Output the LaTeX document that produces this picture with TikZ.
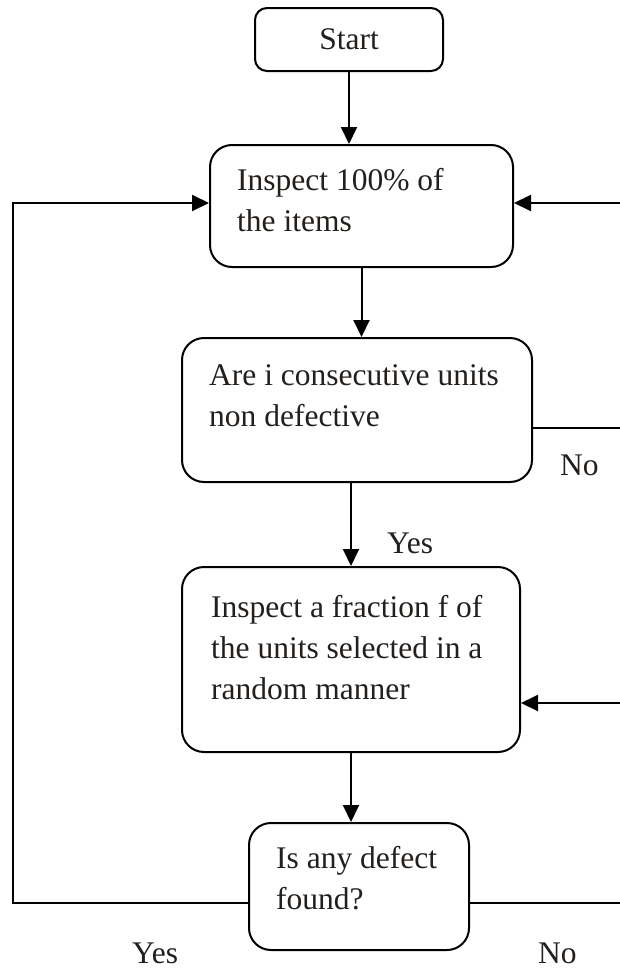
\documentclass[tikz,border=0pt]{standalone}
\usepackage{fontspec}
\setmainfont{Liberation Serif}
\usetikzlibrary{arrows.meta}
\definecolor{ink}{RGB}{35,31,28}
\begin{document}
\begin{tikzpicture}[x=1pt,y=-1pt,
  box/.style={draw, line width=2pt, rounded corners=22pt, inner sep=0pt},
  txt/.style={anchor=base west, inner sep=0pt, align=left, text=ink,
    font=\fontsize{31.5}{41}\selectfont},
  conn/.style={line width=2pt},
  arr/.style={conn, -{Triangle[length=17pt,width=16pt]}}]
\useasboundingbox (0,0) rectangle (620,969);
% boxes
\node[box, rounded corners=12pt, minimum width=188pt, minimum height=63pt,
      text=ink, font=\fontsize{31.5}{41}\selectfont] (start) at (349,39.5) {Start};
\node[box, minimum width=303pt, minimum height=122pt] (b2) at (361.5,206) {};
\node[box, minimum width=350pt, minimum height=144pt] (b3) at (357,410) {};
\node[box, minimum width=338pt, minimum height=185pt] (b4) at (351,659.5) {};
\node[box, minimum width=220pt, minimum height=127pt] (b5) at (359,886.5) {};
% texts (anchor = baseline of last line)
\node[txt] (t2) at (237,231) {Inspect 100\% of\\the items};
\node[txt] (t3) at (209,426) {Are i consecutive units\\non defective};
\node[txt] (t4) at (211,699) {Inspect a fraction f of\\the units selected in a\\random manner};
\node[txt] (t5) at (276,909) {Is any defect\\found?};
% labels
\node[txt] (yes1) at (387,553) {Yes};
\node[txt] (no1) at (560,475) {No};
\node[txt] (yes2) at (132,963) {Yes};
\node[txt] (no2) at (538,963) {No};
% free ends
\coordinate (l1) at (13,903);
\coordinate (r1) at (620,203);
\coordinate (r2) at (620,428);
\coordinate (r3) at (620,703);
\coordinate (r4) at (620,903);
% connectors
\draw[arr] (start.south) -- (start.south |- b2.north);
\draw[arr] (b2.south) -- (b2.south |- b3.north);
\draw[arr] (b4.north |- b3.south) -- (b4.north);
\draw[arr] (b4.south) -- (b4.south |- b5.north);
\draw[arr] (b5.west |- l1) -- (l1) |- ([yshift=3pt]b2.west);
\draw[arr] (r1) -- (b2.east |- r1);
\draw[conn] (b3.east |- r2) -- (r2);
\draw[arr] (r3) -- (b4.east |- r3);
\draw[conn] (b5.east |- r4) -- (r4);
\end{tikzpicture}
\end{document}
